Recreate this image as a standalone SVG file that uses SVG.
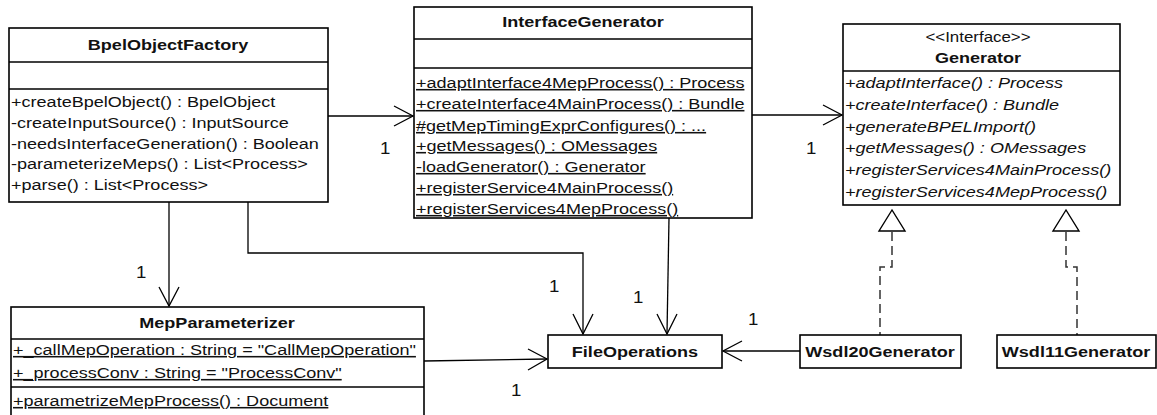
<svg xmlns="http://www.w3.org/2000/svg" width="1157" height="415" viewBox="0 0 1157 415">
  <style>
    .box { fill: #ffffff; stroke: #000000; stroke-width: 1.6; }
    .sep { stroke: #000000; stroke-width: 1.4; fill: none; }
    .t { font-family: "Liberation Sans", Arial, sans-serif; font-size: 15.5px; fill: #111111; }
    .title { font-family: "Liberation Sans", Arial, sans-serif; font-size: 15.5px; font-weight: bold; fill: #111111; text-anchor: middle; }
    .stereo { font-family: "Liberation Sans", Arial, sans-serif; font-size: 14.5px; fill: #111111; text-anchor: middle; }
    .u { text-decoration: underline; }
    .i { font-style: italic; }
    .mult { font-family: "Liberation Sans", Arial, sans-serif; font-size: 16px; fill: #111111; }
    .edge { stroke: #000000; stroke-width: 1.3; fill: none; }
    .dash { stroke: #333333; stroke-width: 1.5; fill: none; stroke-dasharray: 9 5; }
    .head { stroke: #000000; stroke-width: 1.3; fill: none; }
    .tri { stroke: #000000; stroke-width: 1.4; fill: #ffffff; }
  </style>

  <!-- associations and realizations -->
  <g id="connectors">
    <!-- BpelObjectFactory -> InterfaceGenerator -->
    <path class="edge" d="M328,116 H413"/>
    <path class="head" d="M394,106 L413,116 L394,126"/>
    <text class="mult" transform="translate(380 154) scale(1.165 1)">1</text>

    <!-- InterfaceGenerator -> Generator -->
    <path class="edge" d="M752,115 H842"/>
    <path class="head" d="M823,105 L842,115 L823,125"/>
    <text class="mult" transform="translate(806 154) scale(1.165 1)">1</text>

    <!-- BpelObjectFactory -> MepParameterizer -->
    <path class="edge" d="M169,202 V306"/>
    <path class="head" d="M159,287 L169,306 L179,287"/>
    <text class="mult" transform="translate(136 278) scale(1.165 1)">1</text>

    <!-- BpelObjectFactory -> FileOperations -->
    <path class="edge" d="M248,202 V253 H583 V334"/>
    <path class="head" d="M573,314 L583,334 L593,314"/>
    <text class="mult" transform="translate(549 292) scale(1.165 1)">1</text>

    <!-- InterfaceGenerator -> FileOperations -->
    <path class="edge" d="M669,218 L667,334"/>
    <path class="head" d="M657,314 L667,334 L677,314"/>
    <text class="mult" transform="translate(633 303) scale(1.165 1)">1</text>

    <!-- MepParameterizer -> FileOperations -->
    <path class="edge" d="M424,361 L547,359"/>
    <path class="head" d="M528,349 L547,359 L528,370"/>
    <text class="mult" transform="translate(511 396) scale(1.165 1)">1</text>

    <!-- Wsdl20Generator -> FileOperations -->
    <path class="edge" d="M800,351 H723"/>
    <path class="head" d="M742,341 L723,351 L742,361"/>
    <text class="mult" transform="translate(748 325) scale(1.165 1)">1</text>

    <!-- Wsdl20Generator realizes Generator -->
    <path class="dash" d="M892,232 V267 H880 V335"/>
    <path class="tri" d="M892,210 L879,231 L905,231 Z"/>

    <!-- Wsdl11Generator realizes Generator -->
    <path class="dash" d="M1066,232 V267 H1077 V335"/>
    <path class="tri" d="M1066,210 L1053,231 L1079,231 Z"/>
  </g>

  <g id="BpelObjectFactory">
    <rect class="box" x="9" y="28" width="319" height="174"/>
    <line class="sep" x1="9" y1="62" x2="328" y2="62"/>
    <line class="sep" x1="9" y1="89" x2="328" y2="89"/>
    <text class="title" transform="translate(168 50) scale(1.165 1)">BpelObjectFactory</text>
    <text class="t" transform="translate(11 107) scale(1.165 1)">+createBpelObject() : BpelObject</text>
    <text class="t" transform="translate(11 128) scale(1.165 1)">-createInputSource() : InputSource</text>
    <text class="t" transform="translate(11 149) scale(1.165 1)">-needsInterfaceGeneration() : Boolean</text>
    <text class="t" transform="translate(11 169) scale(1.165 1)">-parameterizeMeps() : List&lt;Process&gt;</text>
    <text class="t" transform="translate(11 190) scale(1.165 1)">+parse() : List&lt;Process&gt;</text>
  </g>

  <g id="InterfaceGenerator">
    <rect class="box" x="414" y="7" width="338" height="211"/>
    <line class="sep" x1="414" y1="39" x2="752" y2="39"/>
    <line class="sep" x1="414" y1="68" x2="752" y2="68"/>
    <text class="title" transform="translate(583 27) scale(1.165 1)">InterfaceGenerator</text>
    <text class="t u" transform="translate(416 88) scale(1.165 1)">+adaptInterface4MepProcess() : Process</text>
    <text class="t u" transform="translate(416 109) scale(1.165 1)">+createInterface4MainProcess() : Bundle</text>
    <text class="t u" transform="translate(416 131) scale(1.165 1)">#getMepTimingExprConfigures() : ...</text>
    <text class="t u" transform="translate(416 151) scale(1.165 1)">+getMessages() : OMessages</text>
    <text class="t u" transform="translate(416 172) scale(1.165 1)">-loadGenerator() : Generator</text>
    <text class="t u" transform="translate(416 193) scale(1.165 1)">+registerService4MainProcess()</text>
    <text class="t u" transform="translate(416 214) scale(1.165 1)">+registerServices4MepProcess()</text>
  </g>

  <g id="Generator">
    <rect class="box" x="843" y="24" width="277" height="181"/>
    <line class="sep" x1="843" y1="71" x2="1120" y2="71"/>
    <text class="stereo" transform="translate(978 42) scale(1.165 1)">&lt;&lt;Interface&gt;&gt;</text>
    <text class="title" transform="translate(978 63) scale(1.165 1)">Generator</text>
    <text class="t i" transform="translate(845 88) scale(1.165 1)">+adaptInterface() : Process</text>
    <text class="t i" transform="translate(845 110) scale(1.165 1)">+createInterface() : Bundle</text>
    <text class="t i" transform="translate(845 132) scale(1.165 1)">+generateBPELImport()</text>
    <text class="t i" transform="translate(845 153) scale(1.165 1)">+getMessages() : OMessages</text>
    <text class="t i" transform="translate(845 175) scale(1.165 1)">+registerServices4MainProcess()</text>
    <text class="t i" transform="translate(845 197) scale(1.165 1)">+registerServices4MepProcess()</text>
  </g>

  <g id="MepParameterizer">
    <rect class="box" x="11" y="307" width="413" height="112"/>
    <line class="sep" x1="11" y1="339" x2="424" y2="339"/>
    <line class="sep" x1="11" y1="387" x2="424" y2="387"/>
    <text class="title" transform="translate(217 328) scale(1.165 1)">MepParameterizer</text>
    <text class="t u" transform="translate(13 355) scale(1.165 1)">+_callMepOperation : String = "CallMepOperation"</text>
    <text class="t u" transform="translate(13 378) scale(1.165 1)">+_processConv : String = "ProcessConv"</text>
    <text class="t u" transform="translate(13 406) scale(1.165 1)">+parametrizeMepProcess() : Document</text>
  </g>

  <g id="FileOperations">
    <rect class="box" x="548" y="335" width="174" height="33"/>
    <text class="title" transform="translate(635 357) scale(1.165 1)">FileOperations</text>
  </g>

  <g id="Wsdl20Generator">
    <rect class="box" x="800" y="335" width="161" height="33"/>
    <text class="title" transform="translate(880 357) scale(1.165 1)">Wsdl20Generator</text>
  </g>

  <g id="Wsdl11Generator">
    <rect class="box" x="997" y="335" width="159" height="33"/>
    <text class="title" transform="translate(1076 357) scale(1.165 1)">Wsdl11Generator</text>
  </g>
</svg>
